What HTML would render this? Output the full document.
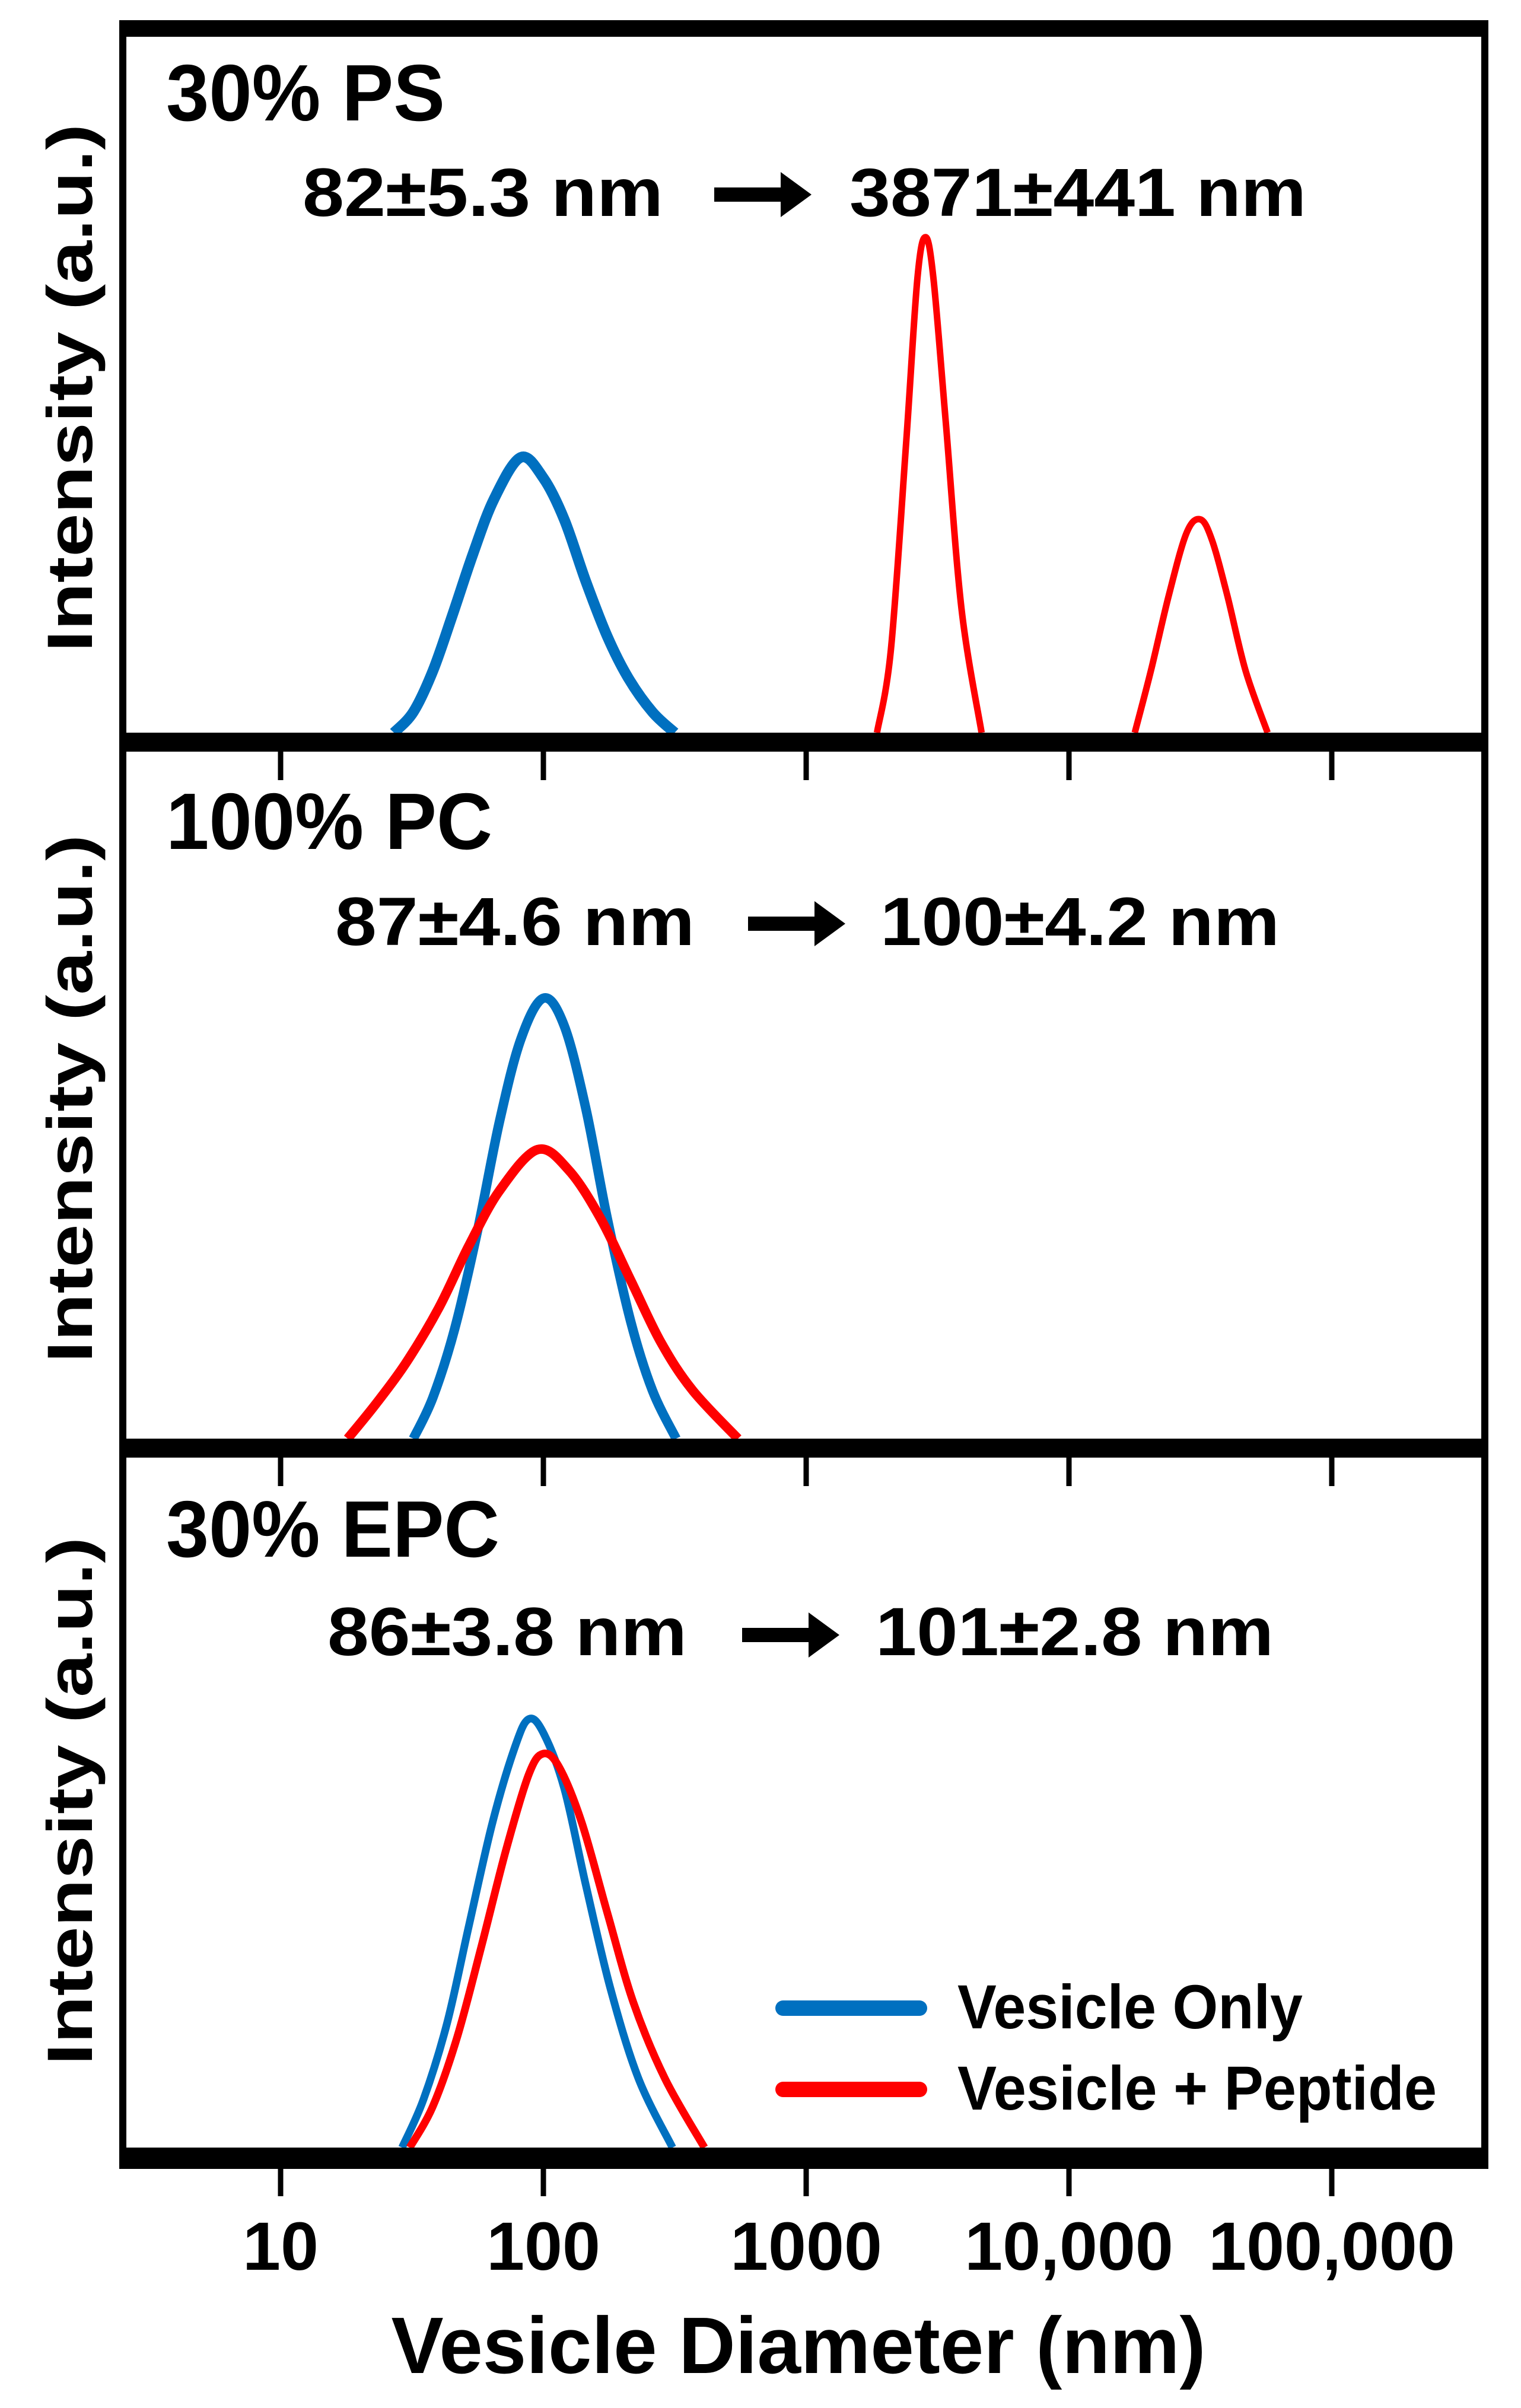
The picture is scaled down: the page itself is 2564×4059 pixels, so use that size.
<!DOCTYPE html>
<html><head><meta charset="utf-8"><style>
html,body{margin:0;padding:0;background:#fff;}
svg{display:block;}
text{font-family:"Liberation Sans Narrow","Liberation Sans",sans-serif;font-weight:bold;fill:#000;}
.wide{font-family:"Liberation Sans",sans-serif;}
</style></head><body>
<svg id="chart" width="2564" height="4059" viewBox="0 0 2564 4059" xmlns="http://www.w3.org/2000/svg">
<g id="frames"></g>
<g id="curves"></g>
<g id="labels">
  <text x="280" y="203" font-size="135" textLength="470" lengthAdjust="spacingAndGlyphs">30% PS</text>
  <text x="510" y="364" font-size="115" textLength="608" lengthAdjust="spacingAndGlyphs">82±5.3 nm</text>
  <text x="1432" y="364" font-size="115" textLength="770" lengthAdjust="spacingAndGlyphs">3871±441 nm</text>
  <text x="280" y="1431" font-size="135" textLength="550" lengthAdjust="spacingAndGlyphs">100% PC</text>
  <text x="565" y="1593" font-size="115" textLength="606" lengthAdjust="spacingAndGlyphs">87±4.6 nm</text>
  <text x="1484" y="1593" font-size="115" textLength="673" lengthAdjust="spacingAndGlyphs">100±4.2 nm</text>
  <text x="280" y="2624" font-size="135" textLength="562" lengthAdjust="spacingAndGlyphs">30% EPC</text>
  <text x="552" y="2790" font-size="115" textLength="606" lengthAdjust="spacingAndGlyphs">86±3.8 nm</text>
  <text x="1476" y="2790" font-size="115" textLength="671" lengthAdjust="spacingAndGlyphs">101±2.8 nm</text>
  <text x="1614" y="3419" font-size="105" textLength="582" lengthAdjust="spacingAndGlyphs">Vesicle Only</text>
  <text x="1614" y="3556" font-size="105" textLength="808" lengthAdjust="spacingAndGlyphs">Vesicle + Peptide</text>
  <text x="1346" y="4000" font-size="135" text-anchor="middle" textLength="1373" lengthAdjust="spacingAndGlyphs">Vesicle Diameter (nm)</text>
  <text class="wide" transform="translate(155,654) rotate(-90)" font-size="108" text-anchor="middle" textLength="890" lengthAdjust="spacingAndGlyphs">Intensity (a.u.)</text>
  <text class="wide" transform="translate(155,1852) rotate(-90)" font-size="108" text-anchor="middle" textLength="890" lengthAdjust="spacingAndGlyphs">Intensity (a.u.)</text>
  <text class="wide" transform="translate(155,3036) rotate(-90)" font-size="108" text-anchor="middle" textLength="890" lengthAdjust="spacingAndGlyphs">Intensity (a.u.)</text>
</g>
<g id="legend">
  <line x1="1320" y1="3385" x2="1550" y2="3385" stroke="#0070C0" stroke-width="26" stroke-linecap="round"/>
  <line x1="1320" y1="3522" x2="1550" y2="3522" stroke="#FF0000" stroke-width="26" stroke-linecap="round"/>
</g>
<g id="arrows"></g>
</svg>
<script>
// tick data
const tickValues = [10, 100, 1000, 10000, 100000];
const tickLabels = ["10", "100", "1000", "10,000", "100,000"];
// panel 1: 30% PS
const psBlueD = [27, 32, 38, 45, 54, 65, 82, 100, 120, 145, 175, 210, 260, 316];
const psBlueI = [0, 3, 9, 17, 26, 34, 40, 37, 31, 22, 14, 8, 3, 0];
const psRed1D = [1860, 2100, 2400, 2650, 2845, 3050, 3400, 3900, 4650];
const psRed1I = [0, 12, 42, 66, 72, 66, 45, 18, 0];
const psRed2D = [17800, 20500, 24000, 28000, 31600, 35000, 40000, 47000, 57000];
const psRed2I = [0, 9, 20, 29, 31, 28, 20, 9, 0];
// panel 2: 100% PC
const pcBlueD = [32, 38, 46, 56, 68, 82, 100, 120, 145, 175, 215, 260, 320];
const pcBlueI = [0, 6, 16, 30, 46, 58, 64, 60, 48, 32, 17, 7, 0];
const pcRedD = [18, 23, 30, 40, 52, 68, 95, 125, 165, 215, 280, 370, 550];
const pcRedI = [0, 5, 11, 19, 28, 36, 42, 39, 32, 23, 14, 7, 0];
// panel 3: 30% EPC
const epcBlueD = [29, 35, 43, 52, 64, 78, 88, 100, 120, 145, 180, 230, 310];
const epcBlueI = [0, 7, 18, 32, 47, 58, 62, 60, 52, 38, 23, 10, 0];
const epcRedD = [31, 38, 47, 58, 72, 88, 100, 115, 140, 175, 220, 290, 410];
const epcRedI = [0, 6, 16, 29, 43, 54, 57, 55, 47, 34, 21, 10, 0];

const NS = "http://www.w3.org/2000/svg";
const L = 207, R = 2503;
const panels = [
  {base: 1235, top: 75},
  {base: 2425, top: 1265},
  {base: 3620, top: 2455}
];
function xs(v){ return 473 + (Math.log10(v) - 1) * 443; }
function ys(p, v){ return p.base - v / 100 * (p.base - p.top); }
function mk(tag, attrs, parent){
  const e = document.createElementNS(NS, tag);
  for (const k in attrs) e.setAttribute(k, attrs[k]);
  parent.appendChild(e);
  return e;
}
const frames = document.getElementById('frames');
const curves = document.getElementById('curves');
const arrowsG = document.getElementById('arrows');

let fr = mk('rect', {x: L, y: 48, width: R - L, height: 3650 - 48, fill: 'none', stroke: '#000', 'stroke-width': 12}, frames);


const hlines = [[34, 62], [1235, 1267], [2425, 2457], [3620, 3652]];
hlines.forEach(function(h, i){
  const r = mk('rect', {x: L - 6, y: h[0], width: R - L + 12, height: h[1] - h[0], fill: '#000'}, frames);
  
  
});
[[1267, 1315], [2457, 2505], [3652, 3702]].forEach(function(t){
  tickValues.forEach(function(v){
    const ln = mk('line', {x1: xs(v), x2: xs(v), y1: t[0], y2: t[1], stroke: '#000', 'stroke-width': 9}, frames);
    
    
  });
});
tickValues.forEach(function(v, j){
  const tx = mk('text', {x: xs(v), y: 3826, 'font-size': 115, 'text-anchor': 'middle'}, frames);
  tx.textContent = tickLabels[j];
  
  
});

function smooth(pts){
  let d = 'M' + pts[0][0] + ',' + pts[0][1];
  for (let i = 0; i < pts.length - 1; i++){
    const p0 = pts[Math.max(i - 1, 0)], p1 = pts[i], p2 = pts[i + 1], p3 = pts[Math.min(i + 2, pts.length - 1)];
    const c1x = p1[0] + (p2[0] - p0[0]) / 6, c1y = p1[1] + (p2[1] - p0[1]) / 6;
    const c2x = p2[0] - (p3[0] - p1[0]) / 6, c2y = p2[1] - (p3[1] - p1[1]) / 6;
    d += ' C' + c1x + ',' + c1y + ' ' + c2x + ',' + c2y + ' ' + p2[0] + ',' + p2[1];
  }
  return d;
}
function drawSeries(pi, D, I, color, w, name){
  const p = panels[pi];
  const pts = D.map(function(d, k){ return [xs(d), ys(p, I[k])]; });
  const path = mk('path', {d: smooth(pts), fill: 'none', stroke: color, 'stroke-width': w, 'stroke-linejoin': 'round'}, curves);
  
  
}
drawSeries(0, psBlueD, psBlueI, '#0070C0', 18, 'ps-vesicle-only-curve');
drawSeries(0, psRed1D, psRed1I, '#FF0000', 11, 'ps-peptide-curve-peak1');
drawSeries(0, psRed2D, psRed2I, '#FF0000', 11, 'ps-peptide-curve-peak2');
drawSeries(1, pcBlueD, pcBlueI, '#0070C0', 16, 'pc-vesicle-only-curve');
drawSeries(1, pcRedD, pcRedI, '#FF0000', 16, 'pc-peptide-curve');
drawSeries(2, epcBlueD, epcBlueI, '#0070C0', 13, 'epc-vesicle-only-curve');
drawSeries(2, epcRedD, epcRedI, '#FF0000', 13, 'epc-peptide-curve');

hlines.slice(1).forEach(function(h){
  mk('rect', {x: L - 6, y: h[0], width: R - L + 12, height: h[1] - h[0], fill: '#000'}, curves);
});

[[1204, 328, 'ps-arrow'], [1261, 1557, 'pc-arrow'], [1251, 2756, 'epc-arrow']].forEach(function(a){
  const x = a[0], y = a[1];
  const pth = mk('path', {d: 'M' + x + ',' + (y - 12) + ' H' + (x + 112) + ' V' + (y - 38) + ' L' + (x + 164) + ',' + y + ' L' + (x + 112) + ',' + (y + 38) + ' V' + (y + 12) + ' H' + x + ' Z', fill: '#000'}, arrowsG);
  
  
});
</script>
</body></html>
